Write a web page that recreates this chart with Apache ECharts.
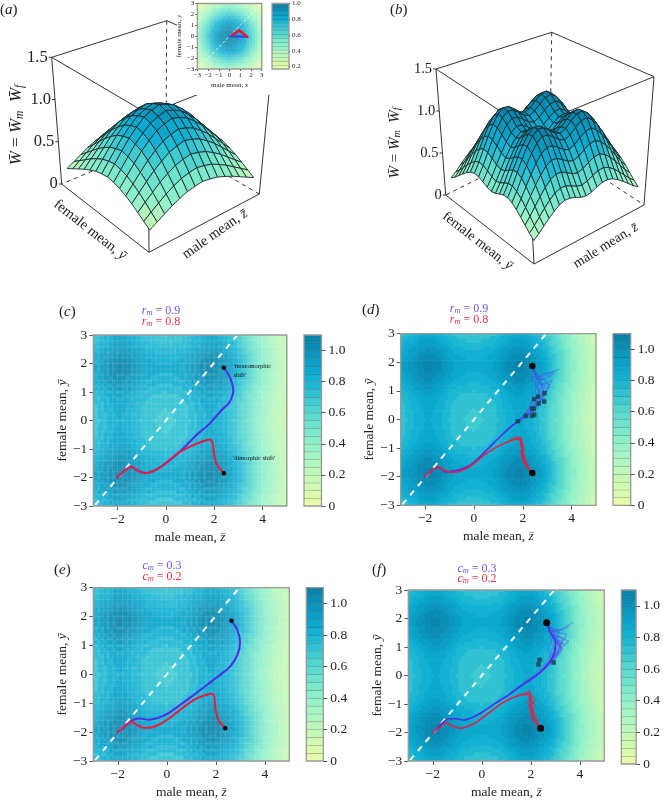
<!DOCTYPE html>
<html><head><meta charset="utf-8">
<style>html,body{margin:0;padding:0;background:#fff}#c{width:663px;height:800px}</style>
<script src="https://cdn.jsdelivr.net/npm/echarts@6/dist/echarts.min.js"></script>
</head><body><div id="c"></div>
<script>
// ---------- colour bands (0 to 1.1 in steps of 0.05) ----------
const bandColours = ['#e4fbaa','#dcfaad','#d2f9b1','#c8f8b6','#bdf7bb','#b1f6c0','#a4f4c4','#97f2c8','#8aeeca','#7ce9cb','#6ee3cc','#5fdccd','#50d5cf','#40cbd1','#30c2d3','#1fb8d3','#12b0d2','#0ca8cd','#0a9fc6','#0a96bd','#0a8db4','#0a84aa'];
// ---------- 1-D fitness profiles, W = Wm * Wf ----------
const zNodes2D = {min:-3, step:0.125};
const yNodes2D = {min:-3, step:0.125};
const maleFitness = [.855,.88,.905,.93,.955,.975,.995,1.015,1.03,1.035,1.03,1.015,1,.98,.955,.93,.905,.885,.87,.86,.85,.845,.84,.835,.83,.835,.84,.845,.85,.86,.87,.885,.905,.93,.955,.98,1,1.015,1.03,1.035,1.03,1.015,.995,.975,.95,.92,.885,.845,.8,.755,.71,.665,.62,.575,.525,.48,.435,.395,.36,.325,.295,.265,.24,.215,.195];
const femaleFitness = [.84,.865,.89,.915,.945,.97,.99,1.01,1.025,1.03,1.025,1.01,.995,.975,.95,.925,.9,.88,.865,.855,.845,.84,.835,.83,.825,.83,.835,.84,.845,.855,.865,.88,.9,.925,.95,.975,.995,1.01,1.025,1.03,1.025,1.01,.99,.97,.945,.915,.89,.865,.84];
const insetFitness = [.43,.48,.55,.61,.68,.74,.80,.86,.90,.94,.97,.99,1,.99,.97,.94,.90,.86,.80,.74,.68,.61,.55,.48,.43];
const surfaceAProfile = [.44,.55,.66,.77,.86,.94,.985,1.015,.985,.94,.86,.77,.66,.55,.44];
const surfaceBProfile = [.46,.56,.68,.80,.91,1,1.05,1.04,.99,.93,.9,.93,.99,1.04,1.05,1,.91,.80,.68,.56,.46];
// ---------- trajectories [male mean, female mean] ----------
const blueC = [[2.4,1.85],[2.64,1.53],[2.79,1.06],[2.64,.65],[2.3,.36],[1.82,-.1],[1.27,-.51],[.72,-.98],[.17,-1.39],[-.32,-1.68],[-.8,-1.84],[-1.14,-1.77],[-1.44,-1.63],[-1.76,-1.8],[-2,-2]];
const redC = [[2.4,-1.85],[2.09,-1.51],[1.98,-1.1],[1.94,-.81],[1.82,-.67],[1.54,-.73],[.99,-.92],[.44,-1.19],[-.11,-1.57],[-.52,-1.78],[-.87,-1.85],[-1.14,-1.77],[-1.44,-1.63],[-1.76,-1.8],[-2,-2]];
const blueE = [[2.64,1.86],[2.88,1.53],[2.99,1.11],[2.88,.67],[2.58,.27],[2.17,-.02],[1.63,-.37],[1.09,-.72],[.54,-1.06],[0,-1.38],[-.41,-1.52],[-.75,-1.57],[-1.09,-1.53],[-1.36,-1.57],[-1.56,-1.7],[-2,-2]];
const redE = [[2.39,-1.87],[2.11,-1.58],[1.98,-1.18],[1.94,-.77],[1.81,-.67],[1.49,-.74],[1.09,-.89],[.54,-1.23],[0,-1.58],[-.54,-1.82],[-.95,-1.85],[-1.22,-1.75],[-1.45,-1.64],[-1.7,-1.78],[-2,-2]];
const blueD = [[1.8,-.06],[1.13,-.55],[.45,-1.13],[-.16,-1.6],[-.64,-1.77],[-1.19,-1.83],[-1.43,-1.66],[-1.75,-1.8],[-2,-2]];
const redD = [[2.39,-1.87],[2.1,-1.55],[1.98,-1.2],[1.94,-.85],[1.85,-.69],[1.5,-.74],[1,-.93],[.45,-1.22],[-.1,-1.6],[-.5,-1.78],[-.87,-1.85],[-1.19,-1.79],[-1.43,-1.66],[-1.75,-1.8],[-2,-2]];
const blueF = [[2.65,1.85],[2.81,1.5],[3.01,1.22],[2.95,.76],[2.6,.3],[2.2,-.02],[1.65,-.33],[1.1,-.68],[.56,-.97],[.01,-1.29],[-.4,-1.48],[-.74,-1.56],[-1.08,-1.52],[-1.35,-1.52],[-1.56,-1.63],[-2,-2]];
const redF = [[2.4,-1.85],[2.13,-1.48],[1.99,-.97],[1.96,-.68],[1.79,-.66],[1.38,-.74],[.83,-.97],[.29,-1.31],[-.26,-1.66],[-.87,-1.85],[-1.21,-1.77],[-1.45,-1.66],[-1.7,-1.8],[-2,-2]];
const blueRepsD = [
 [[2.39,1.87],[2.58,1.5],[2.75,1.3],[2.85,1.05],[2.7,.75],[2.45,.45],[2.15,.15],[1.8,-.06]],
 [[2.39,1.87],[2.55,1.45],[2.9,1.4],[3.1,1.15],[2.85,.8],[2.55,.45],[2.2,.15],[1.8,-.06]],
 [[2.45,1.7],[2.7,1.5],[3,1.55],[3.45,1.75]],
 [[2.6,1.35],[2.95,1.45],[3.3,1.6]],
 [[2.55,1.4],[2.8,1.6],[3.05,1.62],[3.3,1.7]],
 [[2.7,1.2],[3.05,1.3],[3.2,1.4],[2.95,1],[2.75,.7],[2.4,.3],[1.8,-.06]],
 [[2.5,1.5],[2.3,1.5],[2.6,1.2],[2.4,.8],[2.3,.45],[2,.1],[1.8,-.06]],
 [[2.39,1.87],[2.5,1.6],[2.62,1.3],[2.65,1],[2.55,.7],[2.3,.35],[1.8,-.06]],
 [[2.39,1.87],[2.52,1.62],[2.68,1.42],[2.78,1.15],[2.6,.85],[2.62,.55],[2.28,.22],[1.8,-.06]],
 [[2.6,1.3],[2.95,1.15],[2.75,.95],[2.9,.75],[2.5,.55],[2.42,.25],[2.05,.06]],
 [[2.5,1.2],[2.72,.95],[2.5,.7],[2.35,.62],[2.2,.3],[1.95,.05]],
 [[2.88,.95],[2.7,.6],[2.55,.35],[2.3,.12],[2,-.02],[1.7,-.12]]];
const redRepsD = [
 [[2.39,-1.87],[2.12,-1.6],[2.05,-1.3],[1.95,-1.05],[2,-.8],[1.85,-.6],[1.6,-.7]],
 [[2.39,-1.87],[2.05,-1.5],[1.9,-1.25],[2.03,-1],[1.9,-.75],[1.75,-.62]],
 [[2.3,-1.78],[2.1,-1.42],[2.02,-1.15],[1.9,-.9],[1.98,-.68]],
 [[2.3,-1.75],[2,-1.5],[2.08,-1.25],[1.92,-1.1],[2,-.9],[1.85,-.78],[1.95,-.58]],
 [[2.2,-1.62],[2.15,-1.4],[1.98,-1.3],[2.06,-1.05],[1.95,-.7],[1.7,-.6],[1.45,-.72]]];
const blueRepsF = [
 [[2.65,1.85],[2.85,1.55],[3.2,1.6],[3.7,1.85]],
 [[2.75,1.6],[3.1,1.5],[3.45,1.45],[3.25,1.1],[3.05,.85],[2.7,.4]],
 [[2.7,1.55],[3.2,1.35],[3.55,1.2],[3.2,.95],[2.85,.55],[2.4,.15]],
 [[2.65,1.85],[2.9,1.3],[3.15,1.05],[2.8,.9],[2.95,.6],[2.5,.2]],
 [[2.75,1.6],[2.85,1.2],[2.7,.95],[2.85,.55],[2.35,.1],[1.9,-.2]],
 [[2.85,1.45],[3.3,1.3],[3.1,.75],[2.7,.35],[2.1,-.1],[1.6,-.38],[1,-.75]],
 [[2.65,1.85],[3,1.4],[3.1,1.25],[3.25,.85],[2.8,.4],[2.25,.03],[1.7,-.27],[1.1,-.64]],
 [[2.7,1.7],[3.05,1.6],[3.35,1.62],[3.55,1.7]],
 [[2.8,1.5],[3.15,1.55],[3.05,1.15],[3.2,1],[2.95,.9],[3.05,.65],[2.65,.3]],
 [[2.65,1.85],[2.95,1.55],[3,1.2],[2.9,1.05],[3.15,.8],[2.75,.5],[2.45,.12],[1.95,-.18]],
 [[2.9,1.35],[3.35,1.1],[3.1,1.15],[3.3,.95],[2.9,.65],[2.55,.22],[2,-.1],[1.4,-.5]],
 [[2.7,1.75],[3,1.1],[3.2,1.25],[2.85,.75],[2.6,.42],[2.2,.06],[1.75,-.22]]];
const redRepsF = [
 [[2.4,-1.85],[2.2,-1.5],[1.95,-1.2],[2.15,-.95],[1.9,-.8],[1.95,-.55],[1.7,-.7]],
 [[2.4,-1.85],[2.05,-1.45],[2.1,-1.15],[1.85,-.95],[2.1,-.75],[1.85,-.6]],
 [[2.3,-1.72],[1.95,-1.35],[2.2,-1.05],[1.95,-.85],[2.05,-.65]],
 [[2.25,-1.65],[2.18,-1.35],[1.88,-1.1],[2.2,-.85],[1.98,-.72],[2,-.52],[1.6,-.68]],
 [[2.35,-1.8],[2,-1.55],[2.12,-1.25],[1.9,-1.02],[2.05,-.95],[1.92,-.62]]];
// ---------- points ----------
const startsC = [[2.4,1.85],[2.4,-1.85]];
const startsD = [[2.39,1.87],[2.39,-1.87]];
const startsE = [[2.64,1.86],[2.39,-1.87]];
const startsF = [[2.65,1.85],[2.4,-1.85]];
const endpointsD = [[1.8,-.06],[2.13,.13],[2.39,.13],[2.47,.17],[2.38,.38],[2.45,.38],[2.47,.71],[2.62,.8],[2.65,.56],[2.89,.92],[2.88,.63]];
const endpointsF = [[2.36,.55],[2.31,.39],[2.93,.46]];
const insetBlue = [[0,0],[.8,-.02],[1.6,-.05]];
const insetRed = [[.25,.12],[.92,.55],[1.66,-.06]];
const diagonal = [[-2.93,-2.97],[2.94,2.98]];
// ---------- tick labels ----------
const xTicks2D = [-2,0,2,4];
const barTicks = [0,.2,.4,.6,.8,1];
const insetBarTicks = [.2,.4,.6,.8,1];
const heightTicks = [0,.5,1,1.5];

// ---------- layout ----------
const SERIF = 'Liberation Serif', TXT = '#222';
const layout = {
 c:{l:93.3,t:335,w:193.4,h:171,bl:304,bw:17.5},
 d:{l:400.7,t:333.7,w:195.3,h:171.6,bl:613,bw:17.7},
 e:{l:93.3,t:587.7,w:196,h:173.3,bl:306.3,bw:17},
 f:{l:408.3,t:590,w:196,h:174,bl:621.3,bw:17.4}
};
// box corners of the two 3-D frames: front, right, left, back; bottom then top
const boxA = {fb:[149,252.3],rb:[259.3,194],lb:[61.7,184],bb:[166,140],ft:[148,114],rt:[271.7,65.7],lt:[51.7,57.3],bt:[166.7,20.7]};
const boxB = {fb:[534,264],rb:[644,205],lb:[445.7,195],bb:[550,143],ft:[526.7,128.3],rt:[654,76.7],lt:[436,69],bt:[551.7,32.3]};
const surfaceInset = 0.035;

function project(box,u,v,w){ // u front->right, v front->left, w 0..1.5
  const h=w/1.5, out=[];
  for(let k=0;k<2;k++){
    const bot=(1-u)*(1-v)*box.fb[k]+u*(1-v)*box.rb[k]+(1-u)*v*box.lb[k]+u*v*box.bb[k];
    const top=(1-u)*(1-v)*box.ft[k]+u*(1-v)*box.rt[k]+(1-u)*v*box.lt[k]+u*v*box.bt[k];
    out.push(bot+(top-bot)*h);
  }
  return out;
}
const band = W => Math.max(0,Math.min(bandColours.length-1,Math.floor(W/0.05)));
const insetColour = W => bandColours[Math.max(0,Math.min(21,Math.floor((W-0.17)/0.83*22)))];
function lighten(hex,a){
  const n=parseInt(hex.slice(1),16),r=n>>16,g=(n>>8)&255,b=n&255;
  return 'rgb('+[r,g,b].map(c=>Math.round(c+(255-c)*a)).join(',')+')';
}
const fmtAxis = v => String(v).replace('-','\u2212');
const fmtBar = v => v===0?'0':v.toFixed(1);

const grids=[],xAxes=[],yAxes=[],series=[],graphics=[];
function addGrid(g,x,y){grids.push(g);xAxes.push(Object.assign({gridIndex:grids.length-1},x));yAxes.push(Object.assign({gridIndex:grids.length-1},y));return grids.length-1;}
const nameRich = fs => ({r:{fontFamily:SERIF,fontSize:fs,color:TXT},i:{fontFamily:SERIF,fontSize:fs,fontStyle:'italic',color:TXT}});

function valueAxisX(min,max,ticks,name,fs,gap){
  return {type:'value',min,max,z:5,splitLine:{show:false},axisLine:{show:false,onZero:false},
    axisTick:{length:fs>10?4:2,customValues:ticks,lineStyle:{color:'#555',width:1}},
    axisLabel:{customValues:ticks,formatter:fmtAxis,fontFamily:SERIF,fontSize:fs,color:TXT,margin:fs>10?6:3},
    name,nameLocation:'middle',nameGap:gap,nameTextStyle:{rich:nameRich(fs)}};
}
function valueAxisY(name,fs,gap){
  return {type:'value',min:-3,max:3,interval:1,z:5,splitLine:{show:false},axisLine:{show:false,onZero:false},
    axisTick:{length:fs>10?4:2,lineStyle:{color:'#555',width:1}},
    axisLabel:{formatter:fmtAxis,fontFamily:SERIF,fontSize:fs,color:TXT,margin:fs>10?6:3},
    name,nameLocation:'middle',nameGap:gap,nameTextStyle:{rich:nameRich(fs)}};
}
function cellSeries(gi,cells,step,colourOf,z){
  series.push({type:'custom',xAxisIndex:gi,yAxisIndex:gi,z,silent:true,animation:false,progressive:0,clip:true,
    data:cells,encode:{x:0,y:1},
    renderItem(p,api){
      const a=api.coord([api.value(0)-step/2,api.value(1)+step/2]),b=api.coord([api.value(0)+step/2,api.value(1)-step/2]);
      return {type:'rect',shape:{x:a[0]-.3,y:a[1]-.3,width:b[0]-a[0]+.6,height:b[1]-a[1]+.6},style:{fill:colourOf(api.value(2),api.value(3))}};
    }});
}
function frameSeries(gi,xr,yr,col,z){
  series.push({type:'custom',xAxisIndex:gi,yAxisIndex:gi,z,silent:true,animation:false,clip:false,
    data:[[xr[0],yr[0]]],encode:{x:0,y:1},
    renderItem(p,api){
      const a=api.coord([xr[0],yr[1]]),b=api.coord([xr[1],yr[0]]);
      return {type:'rect',shape:{x:a[0],y:a[1],width:b[0]-a[0],height:b[1]-a[1]},style:{fill:'none',stroke:col,lineWidth:1.3}};
    }});
}
function line(gi,data,color,width,opacity,smooth,z){
  series.push({type:'line',xAxisIndex:gi,yAxisIndex:gi,data,symbol:'none',smooth,silent:true,animation:false,z,
    lineStyle:{color,width,opacity,cap:'round',join:'round'}});
}
function points(gi,data,symbol,size,color,z,opacity){
  series.push({type:'scatter',xAxisIndex:gi,yAxisIndex:gi,data,symbol,symbolSize:size,silent:true,animation:false,z,
    itemStyle:{color,opacity:opacity==null?1:opacity}});
}
function colourbar(left,top,width,height,yMin,yMax,ticks,fs,margin,tickLen,z,nBands,colourAt){
  const gi=addGrid({left,top,width,height},{type:'value',min:0,max:1,show:false},
   {type:'value',min:yMin,max:yMax,position:'right',z:5,splitLine:{show:false},axisLine:{show:false,onZero:false},
    axisTick:{customValues:ticks,length:tickLen,lineStyle:{color:'#555'}},
    axisLabel:{customValues:ticks,formatter:fmtBar,fontFamily:SERIF,fontSize:fs,color:TXT,margin}});
  const rows=[];for(let i=0;i<nBands;i++)rows.push([i,i]);
  const stepV=(yMax-yMin)/nBands;
  series.push({type:'custom',xAxisIndex:gi,yAxisIndex:gi,z,silent:true,animation:false,clip:true,data:rows,encode:{},
    renderItem(p,api){
      const i=api.value(0),a=api.coord([0,yMin+(i+1)*stepV]),b=api.coord([1,yMin+i*stepV]);
      return {type:'group',children:[
        {type:'rect',shape:{x:a[0],y:a[1],width:b[0]-a[0],height:b[1]-a[1]},style:{fill:colourAt(i)}},
        {type:'line',shape:{x1:a[0],y1:a[1],x2:b[0],y2:a[1]},style:{stroke:'rgba(40,60,60,.5)',lineWidth:1}}]};
    }});
  frameSeries(gi,[0,1],[yMin,yMax],'#999',z+1);
}
function buildCells(){
  const rows=[];
  maleFitness.forEach((m,i)=>femaleFitness.forEach((f,j)=>{
    const W=m*f,r=maleFitness[i+1],u=femaleFitness[j+1];
    const edge=(r!=null&&band(r*f)!==band(W))||(u!=null&&band(m*u)!==band(W));
    rows.push([zNodes2D.min+i*zNodes2D.step,yNodes2D.min+j*yNodes2D.step,W,edge?1:0]);
  }));
  return rows;
}
function label2D(txt,col,x,y){
  graphics.push({type:'text',x,y,z:20,style:{text:'{i|'+txt[0]+'}{s|m}{r| = '+txt[1]+'}',align:'center',verticalAlign:'middle',
    rich:{i:{fontFamily:SERIF,fontStyle:'italic',fontSize:12,lineHeight:12,fill:col},
          s:{fontFamily:SERIF,fontStyle:'italic',fontSize:8.5,verticalAlign:'bottom',fill:col},
          r:{fontFamily:SERIF,fontSize:12,lineHeight:12,fill:col}}}});
}
function panelTag(letter,x,y){
  graphics.push({type:'text',x,y,z:20,style:{text:'{r|(}{i|'+letter+'}{r|)}',align:'left',verticalAlign:'middle',
    rich:{r:{fontFamily:SERIF,fontSize:15,fill:TXT},i:{fontFamily:SERIF,fontStyle:'italic',fontSize:15,fill:TXT}}}});
}
const BLUE='#4b2fe8',RED='#e81c44',BLUE_T='#7050f5',RED_T='#f0304a';

function panel2D(key,pale,blue,red,blueReps,redReps,starts,ends,startSize,lw){
  const L=layout[key];
  const gi=addGrid({left:L.l,top:L.t,width:L.w,height:L.h},
    valueAxisX(-3,5,xTicks2D,'{r|male mean, }{i|z\u0304}',13.5,24),
    valueAxisY('{r|female mean, }{i|y\u0304}',13.5,24));
  cellSeries(gi,buildCells(),zNodes2D.step,(W,edge)=>{
    const c=bandColours[band(W)];
    return pale?lighten(c,edge?0.11:0.06):c;
  },2);
  if(pale){
    const lat=[];
    for(let i=0;i<=40;i++)lat.push([-3+i*.2,1]);
    for(let j=0;j<=30;j++)lat.push([-3+j*.2,0]);
    series.push({type:'custom',xAxisIndex:gi,yAxisIndex:gi,z:3,silent:true,animation:false,clip:true,data:lat,encode:{},
      renderItem(p,api){
        const v=api.value(0),vert=api.value(1)===1;
        const a=vert?api.coord([v,-3]):api.coord([-3,v]);
        const b=vert?api.coord([v,3]):api.coord([5,v]);
        return {type:'line',shape:{x1:a[0],y1:a[1],x2:b[0],y2:b[1]},style:{stroke:'rgba(255,255,255,.13)',lineWidth:.8}};
      }});
  }
  line(gi,diagonal,'#fff',2,.95,false,4);
  series[series.length-1].lineStyle.type=[6,6];
  series[series.length-1].lineStyle.cap='butt';
  blueReps.forEach(d=>line(gi,d,'#5a3cf5',1.2,.4,false,5));
  redReps.forEach(d=>line(gi,d,'#e81c44',1.2,.45,false,5));
  line(gi,blue,BLUE,lw,1,.35,6);
  line(gi,red,RED,lw,1,.35,7);
  if(ends.length)points(gi,ends,'rect',4.5,'#17424f',8,.85);
  points(gi,starts,'circle',startSize,'#0a0a0a',9);
  frameSeries(gi,[-3,5],[-3,3],'#999',10);
  colourbar(L.bl,L.t,L.bw,L.h,0,1.1,barTicks,13.5,7,4,2,22,i=>bandColours[i]);
}
panel2D('c',true,blueC,redC,[],[],startsC,[],4.5,2);
panel2D('d',false,blueD,redD,blueRepsD,redRepsD,startsD,endpointsD,6.5,1.6);
panel2D('e',true,blueE,redE,[],[],startsE,[],4.5,2);
panel2D('f',false,blueF,redF,blueRepsF,redRepsF,startsF,endpointsF,7,1.6);

// ---------- 3-D panels on a hidden page-sized plane ----------
const plane=addGrid({left:0,top:0,width:663,height:800},{type:'value',min:0,max:663,show:false},{type:'value',min:0,max:800,inverse:true,show:false});
function boxSeries(box){
  const E=[ // [u,v,w,u,v,w,dashed]
   [0,0,0,0,0,1.5,0],[1,0,0,1,0,1.5,0],[0,1,0,0,1,1.5,0],[1,1,1.5,1,1,0,1],
   [0,0,0,1,0,0,0],[0,0,0,0,1,0,0],[1,1,0,1,0,0,1],[1,1,0,0,1,0,1],
   [0,0,1.5,1,0,1.5,0],[0,0,1.5,0,1,1.5,0],[1,1,1.5,1,0,1.5,0],[1,1,1.5,0,1,1.5,0]];
  series.push({type:'custom',xAxisIndex:plane,yAxisIndex:plane,z:1,silent:true,animation:false,clip:false,data:E,encode:{},
    renderItem(p,api){
      const a=api.coord(project(box,api.value(0),api.value(1),api.value(2)));
      const b=api.coord(project(box,api.value(3),api.value(4),api.value(5)));
      return {type:'line',shape:{x1:a[0],y1:a[1],x2:b[0],y2:b[1]},style:{stroke:'#333',lineWidth:1,lineDash:api.value(6)?[4,4]:null}};
    }});
}
function tickSeries(box,fs,gap){
  series.push({type:'custom',xAxisIndex:plane,yAxisIndex:plane,z:1,silent:true,animation:false,clip:false,
    data:heightTicks.map(t=>[t]),encode:{},
    renderItem(p,api){
      const t=api.value(0),a=api.coord(project(box,0,1,t));
      return {type:'group',children:[
        {type:'line',shape:{x1:a[0],y1:a[1],x2:a[0]-gap,y2:a[1]},style:{stroke:'#333',lineWidth:1}},
        {type:'text',style:{text:t===0?'0':t.toFixed(1),x:a[0]-gap-1,y:a[1],align:'right',verticalAlign:'middle',font:fs+'px "'+SERIF+'"',fill:TXT}}]};
    }});
}
function surfaceSeries(box,profile,z){
  const n=profile.length-1,q=[];
  for(let i=0;i<n;i++)for(let j=0;j<n;j++)q.push([i,j]);
  q.sort((a,b)=>(b[0]+b[1])-(a[0]+a[1]));
  const t=a=>surfaceInset+(1-2*surfaceInset)*a/n;
  series.push({type:'custom',xAxisIndex:plane,yAxisIndex:plane,z,silent:true,animation:false,progressive:0,clip:false,data:q,encode:{},
    renderItem(p,api){
      const i=api.value(0),j=api.value(1);
      const H=(a,b)=>profile[a]*profile[b];
      const pt=(a,b)=>api.coord(project(box,t(a),t(b),H(a,b)));
      const mean=(H(i,j)+H(i+1,j)+H(i,j+1)+H(i+1,j+1))/4;
      return {type:'polygon',shape:{points:[pt(i,j),pt(i+1,j),pt(i+1,j+1),pt(i,j+1)]},
        style:{fill:bandColours[band(mean)],stroke:'#1c2a2c',lineWidth:.9,lineJoin:'round'}};
    }});
}
boxSeries(boxA);tickSeries(boxA,16.5,3);surfaceSeries(boxA,surfaceAProfile,3);
boxSeries(boxB);tickSeries(boxB,14.5,3);surfaceSeries(boxB,surfaceBProfile,3);
// white backing of the inset
series.push({type:'custom',xAxisIndex:plane,yAxisIndex:plane,z:1.5,silent:true,animation:false,clip:false,data:[[177,0,120,95]],encode:{},
  renderItem(p,api){const a=api.coord([api.value(0),api.value(1)]);
    return {type:'rect',shape:{x:a[0],y:a[1],width:api.value(2),height:api.value(3)},style:{fill:'#fff'}};}});

// ---------- inset ----------
const insetStep=0.25, insetCells=[];
insetFitness.forEach((m,i)=>insetFitness.forEach((f,j)=>insetCells.push([-3+i*insetStep,-3+j*insetStep,m*f,0])));
const ig=addGrid({left:197.3,top:3,width:64.4,height:66},
  valueAxisX(-3,3,[-3,-2,-1,0,1,2,3],'{r|male mean, }{i|x}',7,13),
  valueAxisY('{r|female mean, }{i|y}',7,12));
cellSeries(ig,insetCells,insetStep,W=>lighten(insetColour(W),.14),2);
line(ig,diagonal.map(p=>[p[0]*.98,p[1]*.98]),'rgba(255,255,255,.8)',1,1,false,3);
series[series.length-1].lineStyle.type=[2,3];
line(ig,insetBlue,'#3a3ae8',2.2,.9,false,4);
line(ig,insetRed,'#f01030',2.4,1,false,5);
frameSeries(ig,[-3,3],[-3,3],'#999',6);
colourbar(272,3,17,66,.17,1,insetBarTicks,7,3,1,2,17,i=>bandColours[Math.round(i*21/16)]);

// ---------- text ----------
const big=(fs)=>({i:{fontFamily:SERIF,fontStyle:'italic',fontSize:fs,lineHeight:fs,fill:TXT},r:{fontFamily:SERIF,fontSize:fs,lineHeight:fs,fill:TXT},
  s:{fontFamily:SERIF,fontStyle:'italic',fontSize:fs*.68,verticalAlign:'bottom',fill:TXT}});
const rotText=(text,x,y,deg,fs)=>graphics.push({type:'text',x,y,rotation:deg*Math.PI/180,z:20,
  style:{text,align:'center',verticalAlign:'middle',rich:big(fs)}});
const WTITLE='{i|W\u0304}{r| = }{i|W\u0304}{s|m}{r|  }{i|W\u0304}{s|f}';
rotText(WTITLE,17,125,90,17);
rotText(WTITLE,395,143,90,15);
rotText('{r|female mean, }{i|y\u0304}',90,230,-38,14.5);
rotText('{r|male mean, }{i|z\u0304}',215,234,35,14.5);
rotText('{r|female mean, }{i|y\u0304}',477.5,241,-38,14);
rotText('{r|male mean, }{i|z\u0304}',605.7,245.7,32,14);
panelTag('a',0,10);panelTag('b',390,10);panelTag('c',59,312);panelTag('d',362,310);panelTag('e',54,570);panelTag('f',372,570);
label2D(['r','0.9'],BLUE_T,161,311);label2D(['r','0.8'],RED_T,161,322);
label2D(['r','0.9'],BLUE_T,469,309);label2D(['r','0.8'],RED_T,469,320);
label2D(['c','0.3'],BLUE_T,162,566);label2D(['c','0.2'],RED_T,162,577);
label2D(['c','0.3'],BLUE_T,477,569);label2D(['c','0.2'],RED_T,477,579);
[["'monomorphic",233.5,366],["shift'",233.5,375],["'dimorphic shift'",233,458]].forEach(t=>
  graphics.push({type:'text',x:t[1],y:t[2],z:20,style:{text:t[0],font:'6.5px "'+SERIF+'"',fill:'#111',align:'left',verticalAlign:'middle'}}));

const chart=echarts.init(document.getElementById('c'),null,{renderer:'canvas'});
chart.setOption({animation:false,backgroundColor:'#fff',grid:grids,xAxis:xAxes,yAxis:yAxes,series,graphic:{elements:graphics}});
</script></body></html>
